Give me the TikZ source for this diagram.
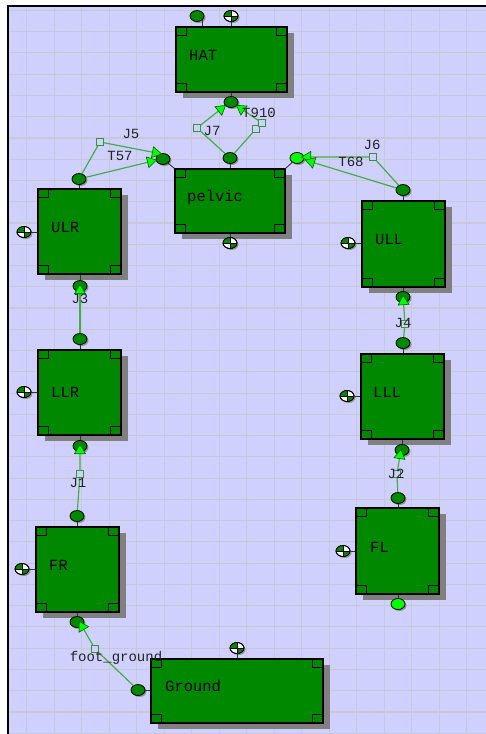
\documentclass[tikz,border=0pt]{standalone}
\usepackage{fontspec}
\setmonofont{Liberation Mono}
\usetikzlibrary{shapes.geometric,arrows.meta,shadows,calc,fit}
\definecolor{bg}{RGB}{208,208,255}
\definecolor{gridc}{RGB}{200,200,216}
\definecolor{bodyg}{RGB}{0,136,0}
\definecolor{limeg}{RGB}{0,255,0}
\definecolor{lineg}{RGB}{64,176,64}
\definecolor{shad}{RGB}{128,128,128}
\definecolor{txt}{RGB}{35,35,35}
\tikzset{
  bodybox/.style={draw=black, fill=bodyg, line width=1.2pt, inner sep=0pt},
  cornerbox/.style={draw=black, line width=0.9pt},
  jpt/.style={ellipse, draw=black, line width=0.8pt, fill=bodyg, minimum width=14pt, minimum height=11pt, inner sep=0pt,
    drop shadow={shadow xshift=1.5pt, shadow yshift=-1.5pt, fill=shad, opacity=0.8}},
  ljpt/.style={jpt, fill=limeg},
  cmbox/.style={ellipse, draw=black, line width=0.8pt, fill=white, minimum width=14pt, minimum height=11pt, inner sep=0pt,
    drop shadow={shadow xshift=1.5pt, shadow yshift=-1.5pt, fill=shad, opacity=0.8}},
  stub/.style={draw=black!80, line width=0.9pt},
  conn/.style={draw=lineg, line width=1.2pt, -{Triangle[width=12pt,length=10pt,color=green!40!black,fill=limeg,line width=0.6pt]}},
  plainconn/.style={draw=lineg, line width=1.2pt},
  sqbox/.style={rectangle, draw=lineg!85!black, fill=bg, minimum size=7pt, inner sep=0pt, line width=0.9pt},
  jlabel/.style={font=\fontsize{14}{15}\selectfont\ttfamily, text=txt, inner sep=0pt},
  blabel/.style={font=\fontsize{15.5}{16}\selectfont\ttfamily, text=black, anchor=west, inner sep=0pt}
}
\newcommand\mkbody[6]{%
  \fill[shad] (#2+7,#3+6) rectangle (#4+7,#5+6);
  \node[bodybox, fit={(#2,#3) (#4,#5)}] (#1) {};
  \draw[cornerbox] (#1.north west) rectangle ++(11,9);
  \draw[cornerbox] (#1.north east) rectangle ++(-11,9);
  \draw[cornerbox] (#1.south west) rectangle ++(11,-9);
  \draw[cornerbox] (#1.south east) rectangle ++(-11,-9);
}
\newcommand\mkcm[3]{%
  \node[cmbox] (#1) at (#2,#3) {};
  \begin{scope}
    \clip (#2,#3) ellipse [x radius=7, y radius=5.5];
    \fill[bodyg] (#2-8,#3-7) rectangle (#2,#3);
    \fill[bodyg] (#2,#3) rectangle (#2+8,#3+7);
  \end{scope}
  \draw[black, line width=0.8pt] (#1.north) -- (#1.south) (#1.west) -- (#1.east);
  \draw[black, line width=0.8pt] (#2,#3) ellipse [x radius=7, y radius=5.5];
}
\begin{document}
\begin{tikzpicture}[x=1pt,y=-1pt]
\useasboundingbox (0,0) rectangle (486,734);
\fill[white] (0,0) rectangle (486,734);
\fill[bg] (8,6) rectangle (486,734);
\foreach \i in {0,...,16} \draw[gridc, line width=1.1pt] ({26.7+27.5*\i},6) -- ({26.7+27.5*\i},734);
\foreach \j in {0,...,34} \draw[gridc, line width=1.1pt] (8,{10.4+21.26*\j}) -- (486,{10.4+21.26*\j});
\draw[black, line width=2.5pt] (8,734) -- (8,6) -- (486,6);

% bodies
\mkbody{HAT}{176}{27}{287}{92}{}
\mkbody{pelvic}{175}{169}{285}{233}{}
\mkbody{ULR}{38}{189}{121}{274}{}
\mkbody{ULL}{362}{201}{445}{287}{}
\mkbody{LLR}{38}{350}{121}{435}{}
\mkbody{LLL}{361}{354}{444}{439}{}
\mkbody{FR}{36}{527}{119}{612}{}
\mkbody{FL}{356}{508}{439}{594}{}
\mkbody{Ground}{151}{659}{323}{723}{}

% joint points
\node[jpt] (hatT) at (197,16) {};
\node[jpt] (hatB) at (231,102) {};
\node[jpt] (pelT) at (230,158) {};
\node[jpt] (pelL) at (163,159) {};
\node[ljpt] (pelR) at (297,158) {};
\node[jpt] (ulrT) at (79,179) {};
\node[jpt] (ulrB) at (80,286) {};
\node[jpt] (llrT) at (80,339) {};
\node[jpt] (llrB) at (80,446) {};
\node[jpt] (frT) at (77,516) {};
\node[jpt] (frB) at (77,622) {};
\node[jpt] (ullT) at (403,190) {};
\node[jpt] (ullB) at (403,297) {};
\node[jpt] (lllT) at (403,343) {};
\node[jpt] (lllB) at (402,450) {};
\node[jpt] (flT) at (398,498) {};
\node[ljpt] (flB) at (398,604) {};
\node[jpt] (grL) at (138,690) {};

% centre of mass markers
\mkcm{hatC}{231}{16}
\mkcm{pelC}{230}{243}
\mkcm{ulrC}{24}{232}
\mkcm{llrC}{24}{392}
\mkcm{frC}{22}{569}
\mkcm{ullC}{348}{243}
\mkcm{lllC}{347}{396}
\mkcm{flC}{343}{551}
\mkcm{grC}{237}{648}

% stubs
\draw[stub] (hatT.south east) -- (hatT.south east |- HAT.north);
\draw[stub] (hatC) -- (hatC |- HAT.north);
\draw[stub] (HAT.south) -- (hatB);
\draw[stub] (pelT) -- (pelT |- pelvic.north);
\draw[stub] (pelC) -- (pelC |- pelvic.south);
\draw[stub] (pelL) -- (pelvic.north west);
\draw[stub] (pelR) -- (pelvic.north east);
\draw[stub] (ulrT) -- (ulrT |- ULR.north);
\draw[stub] (ulrB) -- (ulrB |- ULR.south);
\draw[stub] (ulrC) -- (ulrC -| ULR.west);
\draw[stub] (llrT) -- (llrT |- LLR.north);
\draw[stub] (llrB) -- (llrB |- LLR.south);
\draw[stub] (llrC) -- (llrC -| LLR.west);
\draw[stub] (frT) -- (frT |- FR.north);
\draw[stub] (frB) -- (frB |- FR.south);
\draw[stub] (frC) -- (frC -| FR.west);
\draw[stub] (ullT) -- (ullT |- ULL.north);
\draw[stub] (ullB) -- (ullB |- ULL.south);
\draw[stub] (ullC) -- (ullC -| ULL.west);
\draw[stub] (lllT) -- (lllT |- LLL.north);
\draw[stub] (lllB) -- (lllB |- LLL.south);
\draw[stub] (lllC) -- (lllC -| LLL.west);
\draw[stub] (flT) -- (flT |- FL.north);
\draw[stub] (flB) -- (flB |- FL.south);
\draw[stub] (flC) -- (flC -| FL.west);
\draw[stub] (grC) -- (grC |- Ground.north);
\draw[stub] (grL) -- (grL -| Ground.west);

% squares
\node[sqbox] (sqJ7) at (197,128) {};
\node[sqbox] (sqT9a) at (256,129) {};
\node[sqbox] (sqT9b) at (262,123) {};
\node[sqbox] (sqJ5) at (100,142) {};
\node[sqbox] (sqJ6) at (373,157) {};
\node[sqbox] (sqJ4) at (405,324) {};
\node[sqbox] (sqJ1) at (80,474) {};
\node[sqbox] (sqJ2) at (397,474) {};
\node[sqbox] (sqFG) at (95,649) {};

% connectors
\draw[conn] (pelT) -- (sqJ7) -- ($(hatB.center)+(-5,3)$);
\draw[plainconn] (pelT) -- (sqT9a);
\draw[conn] (sqT9b) -- ($(hatB.center)+(5,3)$);
\draw[conn] (ulrT) -- (sqJ5) -- ($(pelL.center)+(-1,-5)$);
\draw[conn] (ulrT) -- ($(pelL.center)+(-6,1)$);
\draw[conn] (ullT) -- (sqJ6) -- ($(pelR.center)+(4,-1)$);
\draw[conn] (ullT) -- ($(pelR.center)+(8,2)$);
\draw[conn] (llrT) -- ($(ulrB.center)+(0,-2)$);
\draw[conn] (lllT) -- (sqJ4) -- ($(ullB.center)+(0,-2)$);
\draw[conn] (frT) -- (sqJ1) -- ($(llrB.center)+(0,-2)$);
\draw[conn] (flT) -- (sqJ2) -- ($(lllB.center)+(-1,-1)$);
\draw[conn] (grL) -- (sqFG) -- ($(frB.center)+(2,-1)$);

% body labels
\node[blabel] (lHAT) at (189,55) {HAT};
\node[blabel] (lpelvic) at (187,197) {pelvic};
\node[blabel] (lULR) at (51,227) {ULR};
\node[blabel] (lULL) at (375,239) {ULL};
\node[blabel] (lLLR) at (51,392) {LLR};
\node[blabel] (lLLL) at (373,392) {LLL};
\node[blabel] (lFR) at (49,565) {FR};
\node[blabel] (lFL) at (370,547) {FL};
\node[blabel] (lGround) at (165,686) {Ground};

% joint labels
\node[jlabel] (tJ5) at (131,134) {J5};
\node[jlabel] (tT57) at (120,156) {T57};
\node[jlabel] (tJ7) at (212,131) {J7};
\node[jlabel] (tT910) at (259,113) {T910};
\node[jlabel] (tJ6) at (372,145) {J6};
\node[jlabel] (tT68) at (351,162) {T68};
\node[jlabel] (tJ3) at (80,299) {J3};
\node[jlabel] (tJ4) at (403,323) {J4};
\node[jlabel] (tJ1) at (78,483) {J1};
\node[jlabel] (tJ2) at (396,474) {J2};
\node[jlabel] (tFG) at (116,658) {foot\_ground};
\end{tikzpicture}
\end{document}
